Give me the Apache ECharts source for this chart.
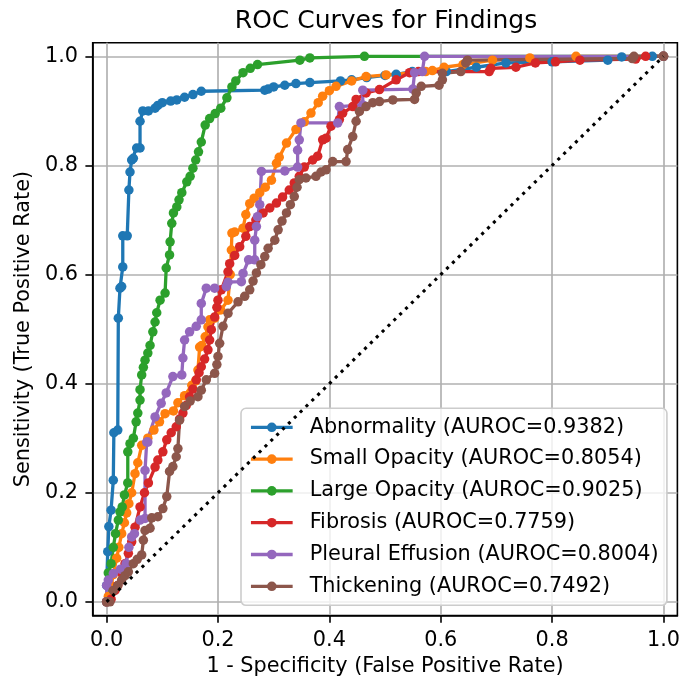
<!DOCTYPE html>
<html><head><meta charset="utf-8">
<script src="https://cdn.jsdelivr.net/npm/echarts@6/dist/echarts.min.js"></script>
<style>html,body{margin:0;padding:0;background:#fff}#c{width:683px;height:682px}</style>
</head><body><div id="c"></div>
<script>
const findings = ['Abnormality','Small Opacity','Large Opacity','Fibrosis','Pleural Effusion','Thickening'];
const aurocs = ['0.9382','0.8054','0.9025','0.7759','0.8004','0.7492'];
const colors = ['#1f77b4','#ff7f0e','#2ca02c','#d62728','#9467bd','#8c564b'];
const tickValues = [0,0.2,0.4,0.6,0.8,1.0];
const chanceLine = [[0,0],[1,1]];

const abnormality = [[0,0],[0,0.03],[0.002,0.092],[0.004,0.138],[0.008,0.168],[0.012,0.223],[0.013,0.31],[0.02,0.315],[0.021,0.52],[0.024,0.575],[0.027,0.578],[0.029,0.614],[0.029,0.671],[0.037,0.671],[0.04,0.755],[0.042,0.788],[0.045,0.81],[0.048,0.813],[0.054,0.832],[0.06,0.832],[0.06,0.881],[0.065,0.9],[0.075,0.9],[0.087,0.905],[0.092,0.91],[0.1,0.915],[0.115,0.918],[0.126,0.92],[0.14,0.925],[0.155,0.93],[0.17,0.936],[0.284,0.938],[0.29,0.94],[0.3,0.944],[0.32,0.947],[0.34,0.95],[0.365,0.952],[0.42,0.955],[0.44,0.957],[0.467,0.961],[0.5,0.965],[0.52,0.967],[0.549,0.972],[0.61,0.972],[0.664,0.98],[0.717,0.988],[0.8,0.99],[0.9,0.993],[0.925,0.999],[0.98,1],[1,1]];

const smallOpacity = [[0,0],[0.003,0.01],[0.008,0.03],[0.012,0.05],[0.018,0.08],[0.022,0.1],[0.027,0.125],[0.032,0.145],[0.036,0.163],[0.04,0.18],[0.045,0.2],[0.051,0.235],[0.056,0.255],[0.063,0.287],[0.074,0.3],[0.085,0.315],[0.095,0.33],[0.105,0.345],[0.12,0.35],[0.128,0.365],[0.14,0.378],[0.153,0.397],[0.16,0.405],[0.164,0.425],[0.167,0.467],[0.171,0.47],[0.177,0.486],[0.182,0.504],[0.185,0.517],[0.194,0.52],[0.205,0.535],[0.218,0.553],[0.222,0.6],[0.224,0.645],[0.225,0.676],[0.23,0.678],[0.245,0.685],[0.25,0.71],[0.257,0.73],[0.265,0.74],[0.275,0.75],[0.285,0.76],[0.296,0.773],[0.305,0.804],[0.31,0.815],[0.323,0.841],[0.34,0.866],[0.355,0.88],[0.367,0.896],[0.38,0.915],[0.388,0.927],[0.4,0.937],[0.412,0.945],[0.44,0.955],[0.466,0.963],[0.502,0.966],[0.573,0.972],[0.585,0.974],[0.606,0.98],[0.64,0.985],[0.693,0.993],[0.76,0.997],[0.843,1],[1,1]];

const largeOpacity = [[0,0],[0.003,0.053],[0.008,0.07],[0.012,0.1],[0.016,0.125],[0.021,0.15],[0.024,0.165],[0.028,0.174],[0.032,0.196],[0.038,0.218],[0.038,0.275],[0.042,0.29],[0.048,0.3],[0.053,0.33],[0.056,0.346],[0.06,0.37],[0.06,0.389],[0.063,0.416],[0.066,0.43],[0.069,0.443],[0.074,0.456],[0.078,0.47],[0.083,0.495],[0.087,0.513],[0.09,0.53],[0.096,0.553],[0.105,0.566],[0.107,0.612],[0.113,0.636],[0.114,0.66],[0.117,0.694],[0.12,0.713],[0.126,0.724],[0.13,0.737],[0.135,0.75],[0.144,0.77],[0.15,0.78],[0.155,0.795],[0.16,0.81],[0.165,0.825],[0.17,0.843],[0.177,0.874],[0.185,0.886],[0.195,0.895],[0.205,0.905],[0.216,0.924],[0.225,0.944],[0.232,0.955],[0.245,0.97],[0.258,0.978],[0.271,0.985],[0.347,0.993],[0.365,0.997],[0.463,1],[1,1]];

const fibrosis = [[0,0],[0.008,0.005],[0.015,0.021],[0.02,0.03],[0.027,0.053],[0.033,0.07],[0.039,0.089],[0.045,0.11],[0.051,0.137],[0.06,0.174],[0.068,0.2],[0.075,0.218],[0.087,0.247],[0.092,0.26],[0.101,0.275],[0.108,0.297],[0.116,0.31],[0.125,0.321],[0.131,0.335],[0.137,0.346],[0.143,0.36],[0.149,0.376],[0.155,0.39],[0.161,0.407],[0.166,0.42],[0.17,0.431],[0.176,0.445],[0.182,0.462],[0.185,0.48],[0.188,0.499],[0.194,0.522],[0.198,0.54],[0.2,0.553],[0.206,0.572],[0.218,0.605],[0.221,0.62],[0.23,0.635],[0.239,0.651],[0.25,0.67],[0.257,0.688],[0.268,0.7],[0.281,0.713],[0.293,0.722],[0.305,0.731],[0.316,0.742],[0.328,0.755],[0.337,0.768],[0.346,0.78],[0.355,0.797],[0.37,0.81],[0.379,0.817],[0.388,0.847],[0.394,0.85],[0.403,0.872],[0.418,0.884],[0.424,0.896],[0.442,0.908],[0.448,0.921],[0.466,0.933],[0.49,0.939],[0.52,0.957],[0.544,0.97],[0.56,0.972],[0.687,0.972],[0.69,0.978],[0.735,0.98],[0.77,0.988],[0.806,0.99],[0.85,0.993],[0.95,0.995],[0.968,1],[1,1]];

const pleuralEffusion = [[0,0],[0,0.03],[0.003,0.04],[0.012,0.052],[0.025,0.06],[0.035,0.07],[0.04,0.1],[0.045,0.119],[0.05,0.125],[0.06,0.15],[0.069,0.153],[0.069,0.241],[0.072,0.293],[0.074,0.293],[0.087,0.339],[0.098,0.364],[0.107,0.383],[0.119,0.413],[0.135,0.416],[0.137,0.447],[0.14,0.48],[0.149,0.495],[0.161,0.505],[0.17,0.517],[0.17,0.547],[0.179,0.575],[0.194,0.575],[0.215,0.578],[0.218,0.586],[0.242,0.587],[0.245,0.602],[0.255,0.627],[0.266,0.627],[0.266,0.663],[0.269,0.688],[0.271,0.706],[0.275,0.728],[0.278,0.789],[0.32,0.79],[0.343,0.797],[0.343,0.828],[0.346,0.847],[0.349,0.878],[0.415,0.878],[0.418,0.908],[0.46,0.911],[0.46,0.938],[0.55,0.94],[0.553,0.97],[0.567,0.972],[0.571,1],[1,1]];

const thickening = [[0,0],[0.006,0],[0.012,0.021],[0.02,0.03],[0.027,0.04],[0.033,0.048],[0.039,0.055],[0.048,0.07],[0.055,0.078],[0.063,0.086],[0.066,0.113],[0.069,0.131],[0.078,0.135],[0.081,0.154],[0.092,0.156],[0.101,0.171],[0.108,0.193],[0.113,0.239],[0.119,0.248],[0.125,0.266],[0.128,0.281],[0.131,0.333],[0.14,0.358],[0.15,0.368],[0.164,0.376],[0.17,0.388],[0.179,0.407],[0.194,0.419],[0.198,0.435],[0.2,0.45],[0.203,0.474],[0.209,0.505],[0.218,0.529],[0.236,0.55],[0.248,0.56],[0.257,0.572],[0.263,0.588],[0.269,0.603],[0.277,0.618],[0.284,0.633],[0.29,0.648],[0.302,0.663],[0.308,0.682],[0.315,0.698],[0.323,0.713],[0.33,0.728],[0.337,0.743],[0.342,0.76],[0.346,0.774],[0.358,0.777],[0.376,0.78],[0.385,0.788],[0.394,0.792],[0.406,0.807],[0.43,0.807],[0.433,0.829],[0.442,0.853],[0.448,0.881],[0.454,0.899],[0.466,0.908],[0.478,0.915],[0.49,0.917],[0.514,0.92],[0.553,0.921],[0.556,0.933],[0.565,0.945],[0.597,0.947],[0.603,0.957],[0.603,0.969],[0.636,0.972],[0.645,0.988],[0.648,0.993],[0.944,0.996],[0.947,1],[1,1]];

const curves = [abnormality, smallOpacity, largeOpacity, fibrosis, pleuralEffusion, thickening];
const FONT = 'DejaVu Sans';
const names = findings.map((f, i) => f + ' (AUROC=' + aurocs[i] + ')');

const series = curves.map((d, i) => ({
  name: names[i], type: 'line', data: d, symbol: 'circle', symbolSize: 9.5,
  showSymbol: true, lineStyle: {width: 3.3, color: colors[i]},
  itemStyle: {color: colors[i], borderWidth: 0}, color: colors[i], z: 3
}));
series.push({
  name: 'chance', type: 'line', data: chanceLine, symbol: 'none', z: 4,
  lineStyle: {color: '#000', width: 3.1, type: [3.1, 5.1], cap: 'butt'}
});

const chart = echarts.init(document.getElementById('c'), null, {renderer: 'canvas'});
const fmt = v => Number(v).toFixed(1);
chart.setOption({
  animation: false,
  backgroundColor: '#fff',
  title: {text: 'ROC Curves for Findings', left: 386, top: 9, textAlign: 'center', padding: 0,
    textStyle: {fontFamily: FONT, fontSize: 25, fontWeight: 'normal', color: '#000', lineHeight: 25}},
  grid: {left: 92.7, right: 4, top: 42.7, bottom: 66.3, show: true, borderColor: '#000', borderWidth: 1.6, containLabel: false},
  xAxis: {type: 'value', min: -0.025, max: 1.025,
    name: '1 - Specificity (False Positive Rate)', nameLocation: 'middle', nameGap: 38,
    nameTextStyle: {fontFamily: FONT, fontSize: 20.8, color: '#000'},
    axisLine: {show: true, onZero: false, lineStyle: {color: '#000', width: 1.6}},
    axisTick: {show: true, inside: false, length: 7.3, lineStyle: {color: '#000', width: 1.6}, customValues: tickValues},
    axisLabel: {customValues: tickValues, formatter: fmt, margin: 14.6, fontFamily: FONT, fontSize: 20.8, color: '#000'},
    splitLine: {show: true, lineStyle: {color: '#b0b0b0', width: 1.67}}},
  yAxis: {type: 'value', min: -0.025, max: 1.025,
    name: 'Sensitivity (True Positive Rate)', nameLocation: 'middle', nameGap: 58,
    nameTextStyle: {fontFamily: FONT, fontSize: 20.8, color: '#000'},
    axisLine: {show: true, onZero: false, lineStyle: {color: '#000', width: 1.6}},
    axisTick: {show: true, inside: false, length: 7.3, lineStyle: {color: '#000', width: 1.6}, customValues: tickValues},
    axisLabel: {customValues: tickValues, formatter: fmt, margin: 14.6, fontFamily: FONT, fontSize: 20.8, color: '#000'},
    splitLine: {show: true, lineStyle: {color: '#b0b0b0', width: 1.67}}},
  legend: {orient: 'vertical', left: 241, top: 408.3, data: names, selectedMode: false,
    itemWidth: 41.7, itemHeight: 12, itemGap: 10.4, padding: [8.3, 8.3, 8.3, 8.3],
    lineStyle: {width: 3.3},
    backgroundColor: 'rgba(255,255,255,0.8)', borderColor: '#cccccc', borderWidth: 1.6, borderRadius: 5,
    textStyle: {fontFamily: FONT, fontSize: 20.8, color: '#000', lineHeight: 21.4, padding: [0, 0, 0, 12]}},
  series: series
});
</script></body></html>
